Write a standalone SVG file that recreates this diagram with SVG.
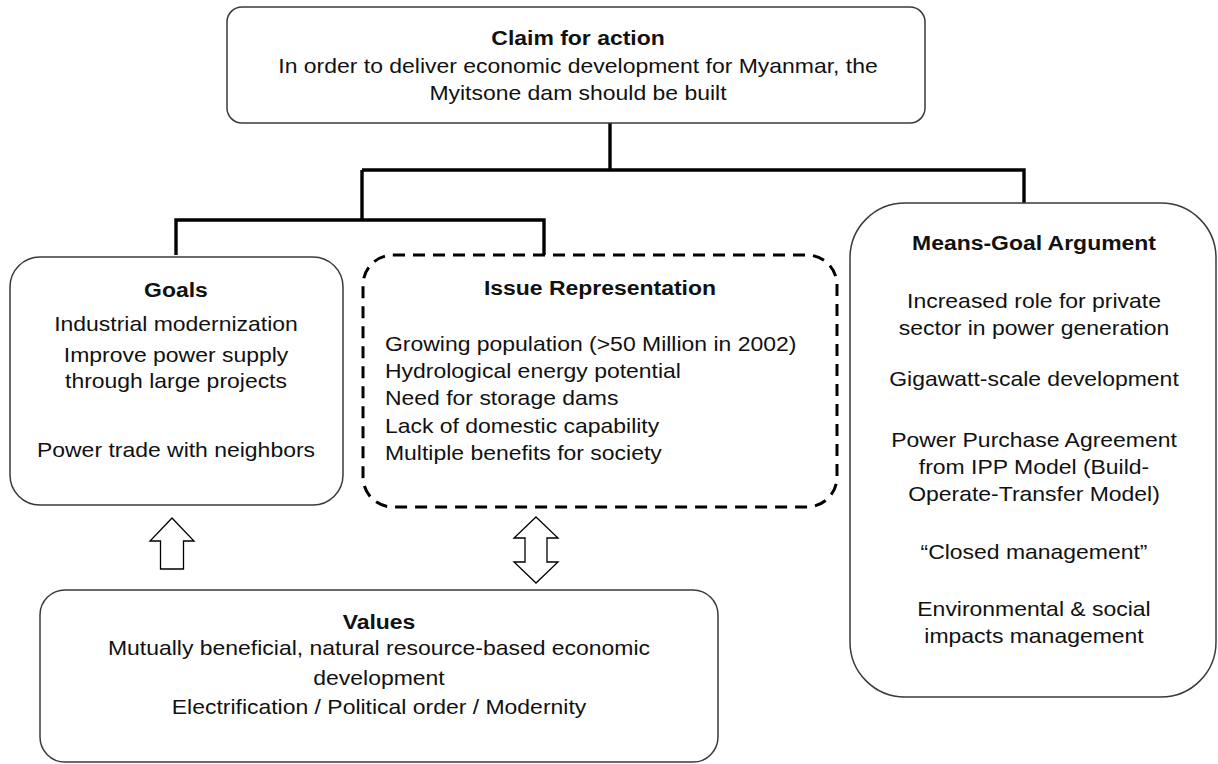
<svg xmlns="http://www.w3.org/2000/svg" width="1218" height="764" viewBox="0 0 1218 764">
<style>
.box{fill:#fff;stroke:#3a3a3a;stroke-width:1.5}
.dash{fill:#fff;stroke:#000;stroke-width:3;stroke-dasharray:12 8}
.conn{fill:none;stroke:#000;stroke-width:3.4;stroke-linecap:butt;stroke-linejoin:miter}
.arrow{fill:#fff;stroke:#000;stroke-width:1.3;stroke-linejoin:miter}
text{font-family:"Liberation Sans",Arial,sans-serif;font-size:20.5px;fill:#111}
.b{font-weight:bold}
.c{text-anchor:middle}
</style>
<rect width="1218" height="764" fill="#fff"/>
<g id="connectors">
<path class="conn" d="M610,123 V170 M362,170 H1024 V204 M362,170 V220 M176,255 V220 H544 V255"/>
<path class="arrow" d="M172,518 L194,541 L183.5,541 L183.5,569 L160.5,569 L160.5,541 L150,541 Z"/>
<path class="arrow" d="M536,517 L558,538 L547,538 L547,562 L558,562 L536,583 L514,562 L525,562 L525,538 L514,538 Z"/>
</g>
<g id="claim">
<rect class="box" x="227" y="7" width="698" height="116" rx="15"/>
<text class="b c" transform="translate(578,45) scale(1.12,1)">Claim for action</text>
<text class="c" transform="translate(578,73) scale(1.12,1)">In order to deliver economic development for Myanmar, the</text>
<text class="c" transform="translate(578,100) scale(1.12,1)">Myitsone dam should be built</text>
</g>
<g id="goals">
<rect class="box" x="10" y="257" width="333" height="248" rx="30"/>
<text class="b c" transform="translate(176,297) scale(1.12,1)">Goals</text>
<text class="c" transform="translate(176,331) scale(1.12,1)">Industrial modernization</text>
<text class="c" transform="translate(176,362) scale(1.12,1)">Improve power supply</text>
<text class="c" transform="translate(176,388) scale(1.12,1)">through large projects</text>
<text class="c" transform="translate(176,457) scale(1.12,1)">Power trade with neighbors</text>
</g>
<g id="issue">
<rect class="dash" x="363" y="255" width="474" height="252" rx="30"/>
<text class="b c" transform="translate(600,295) scale(1.12,1)">Issue Representation</text>
<text transform="translate(385,351) scale(1.12,1)">Growing population (&gt;50 Million in 2002)</text>
<text transform="translate(385,378) scale(1.12,1)">Hydrological energy potential</text>
<text transform="translate(385,405) scale(1.12,1)">Need for storage dams</text>
<text transform="translate(385,433) scale(1.12,1)">Lack of domestic capability</text>
<text transform="translate(385,460) scale(1.12,1)">Multiple benefits for society</text>
</g>
<g id="means">
<rect class="box" x="850" y="203" width="366" height="494" rx="55"/>
<text class="b c" transform="translate(1034,250) scale(1.12,1)">Means-Goal Argument</text>
<text class="c" transform="translate(1034,308) scale(1.12,1)">Increased role for private</text>
<text class="c" transform="translate(1034,335) scale(1.12,1)">sector in power generation</text>
<text class="c" transform="translate(1034,386) scale(1.12,1)">Gigawatt-scale development</text>
<text class="c" transform="translate(1034,447) scale(1.12,1)">Power Purchase Agreement</text>
<text class="c" transform="translate(1034,474) scale(1.12,1)">from IPP Model (Build-</text>
<text class="c" transform="translate(1034,501) scale(1.12,1)">Operate-Transfer Model)</text>
<text class="c" transform="translate(1034,559) scale(1.12,1)">“Closed management”</text>
<text class="c" transform="translate(1034,616) scale(1.12,1)">Environmental &amp; social</text>
<text class="c" transform="translate(1034,643) scale(1.12,1)">impacts management</text>
</g>
<g id="values">
<rect class="box" x="40" y="590" width="678" height="172" rx="25"/>
<text class="b c" transform="translate(379,629) scale(1.12,1)">Values</text>
<text class="c" transform="translate(379,655) scale(1.12,1)">Mutually beneficial, natural resource-based economic</text>
<text class="c" transform="translate(379,685) scale(1.12,1)">development</text>
<text class="c" transform="translate(379,714) scale(1.12,1)">Electrification / Political order / Modernity</text>
</g>
</svg>
